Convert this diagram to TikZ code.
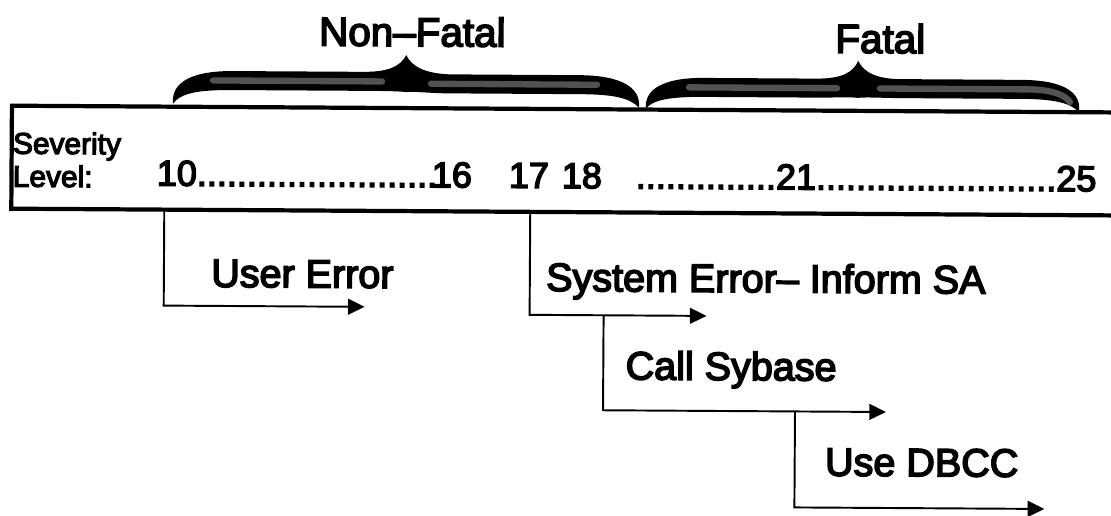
\documentclass[tikz,border=0pt]{standalone}
\usepackage{fontspec}
\newfontfamily\diafont{Liberation Sans}[FakeBold=4]
\usetikzlibrary{arrows.meta}

\tikzset{
  lbl/.style={font=\diafont\fontsize{22.5}{27}\selectfont, inner sep=0pt, anchor=base west},
  head/.style={font=\diafont\fontsize{23}{27}\selectfont, inner sep=0pt, anchor=base},
  num/.style={font=\diafont\fontsize{20.5}{24}\selectfont, inner sep=0pt, anchor=base west},
  sev/.style={font=\diafont\fontsize{17}{19}\selectfont, inner sep=0pt, anchor=base west},
  frame/.style={line width=2.4pt, line join=miter},
  conn/.style={line width=1.1pt, line join=miter, -{Triangle[length=9.5pt,width=9pt]}},
  bracebody/.style={fill=black},
  speck/.style={draw=black!68, line width=3.6pt, line cap=round}
}

\begin{document}
\begin{tikzpicture}[x=0.02cm, y=-0.02cm]
\useasboundingbox (0,0) rectangle (1111,515);
\begin{scope}[rotate around={-0.35:(555,257)}, transform shape]

% scale box, open on the right
\draw[frame] (1130,109) -- (11,109) -- (11,212) -- (1130,212);

% group headings
\node[head] (nonfatal) at (411,47) {Non–Fatal};
\node[head] (fatal)    at (879,51) {Fatal};

% curly brace over levels 10--18
\path[bracebody] (172,106) .. controls (170,86) and (188,73) .. (232,73) -- (362,73)
  .. controls (386,73) and (399,68) .. (405,56)
  .. controls (411,68) and (424,74) .. (448,75) -- (578,75)
  .. controls (622,75) and (640,88) .. (638,107)
  .. controls (628,97) and (612,94) .. (578,94) -- (448,94)
  .. controls (428,94) and (414,92) .. (405,93)
  .. controls (396,92) and (382,92) .. (362,92) -- (232,92)
  .. controls (198,92) and (180,95) .. (172,106) -- cycle;
\draw[speck] (212,82.5) -- (381,82.5);
\draw[speck] (430,84.5) -- (596,84.5);

% curly brace over levels 19--25
\path[bracebody] (645,108) .. controls (643,89) and (662,77) .. (702,77) -- (815,77)
  .. controls (840,77) and (852,71) .. (857,59)
  .. controls (863,71) and (876,77) .. (900,77) -- (1020,77)
  .. controls (1064,77) and (1081,90) .. (1078,109)
  .. controls (1070,100) and (1054,96) .. (1020,96) -- (900,96)
  .. controls (880,96) and (866,95) .. (857,96)
  .. controls (848,95) and (834,96) .. (815,96) -- (702,96)
  .. controls (670,96) and (652,99) .. (645,108) -- cycle;
\draw[speck] (688,86.5) -- (836,86.5);
\draw[speck] (879,86.5) -- (1030,86.5) .. controls (1054,87) and (1065,93) .. (1069,99);

% severity scale
\node[sev] (sev1) at (12,157) {Severity};
\node[sev] (sev2) at (12,190) {Level:};
\node[num] (n10) at (156,188) {10........................};
\node[num] (n16) at (431,188) {16};
\node[num] (n17) at (508,188) {17};
\node[num] (n18) at (561,188) {18};
\node[num] (n21) at (635,188) {..............21........................25};

% outcome labels
\node[lbl] (ue) at (211,289) {User Error};
\node[lbl] (se) at (546,291) {System Error– Inform SA};
\node[lbl] (cs) at (626,379) {Call Sybase};
\node[lbl] (db) at (826,474) {Use DBCC};

% branch points and arrow ends
\coordinate (ueS) at (164,212);
\coordinate (ueE) at (365,308);
\coordinate (seS) at (530,212);
\coordinate (seE) at (707,315);
\coordinate (csS) at (604,315);
\coordinate (csE) at (887,410);
\coordinate (dbS) at (796,410);
\coordinate (dbE) at (1046,506);

\draw[conn] (ueS) |- (ueE);
\draw[conn] (seS) |- (seE);
\draw[conn] (csS) |- (csE);
\draw[conn] (dbS) |- (dbE);

\end{scope}
\end{tikzpicture}
\end{document}
